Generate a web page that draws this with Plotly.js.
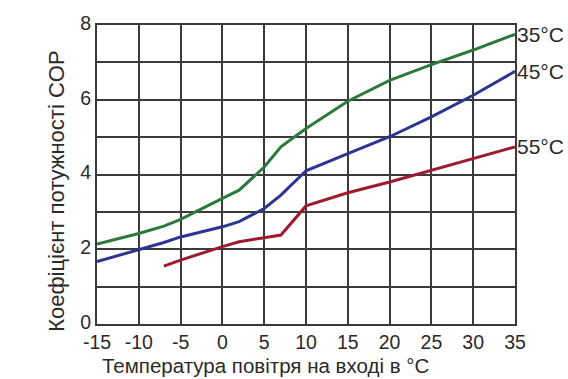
<!DOCTYPE html>
<html>
<head>
<meta charset="utf-8">
<script src="https://cdn.plot.ly/plotly-3.0.1.min.js"></script>
<style>html,body{margin:0;padding:0;background:#fff;}#chart{width:568px;height:379px;}</style>
</head>
<body>
<div id="chart"></div>
<script>
// Air inlet temperature (°C)
const xFull = [-15, -10, -7, -5, 0, 2, 5, 7, 10, 15, 20, 25, 30, 35];
const cop35 = [2.14, 2.42, 2.62, 2.8, 3.36, 3.58, 4.2, 4.74, 5.23, 5.96, 6.52, 6.94, 7.33, 7.75];
const cop45 = [1.67, 1.98, 2.18, 2.33, 2.6, 2.74, 3.09, 3.45, 4.1, 4.56, 5.01, 5.54, 6.12, 6.76];
const x55 = [-7, -5, 0, 2, 5, 7, 10, 15, 20, 25, 30, 35];
const cop55 = [1.55, 1.71, 2.07, 2.2, 2.31, 2.38, 3.16, 3.51, 3.8, 4.12, 4.43, 4.74];
const seriesNames = ["35°C", "45°C", "55°C"];
const seriesColors = ["#2b7a3b", "#2c3590", "#9e1b2e"];
const xTicks = [-15, -10, -5, 0, 5, 10, 15, 20, 25, 30, 35];
const yTicks = [0, 2, 4, 6, 8];
const xTitle = "Температура повітря на вході в °C";
const yTitle = "Коефіцієнт потужності COP";

const xs = [xFull, xFull, x55];
const ys = [cop35, cop45, cop55];
const traces = xs.map((x, i) => ({
  x: x, y: ys[i], mode: "lines", type: "scatter", name: seriesNames[i],
  line: {color: seriesColors[i], width: 3}, hoverinfo: "skip"
}));

const fam = "Liberation Sans, Arial, sans-serif";
const txtColor = "#2a2a2a";
const annotations = seriesNames.map((n, i) => ({
  x: xs[i][xs[i].length - 1], y: ys[i][ys[i].length - 1], xref: "x", yref: "y",
  text: n, showarrow: false, xanchor: "left", yanchor: "middle", xshift: 0,
  font: {family: fam, size: 21, color: txtColor}
}));
annotations.push({
  text: xTitle, xref: "paper", yref: "paper", x: 0.404, y: -0.138,
  xanchor: "center", yanchor: "middle", showarrow: false,
  font: {family: fam, size: 20.5, color: txtColor}
});
annotations.push({
  text: yTitle, xref: "paper", yref: "paper", x: -0.096, y: 0.445,
  xanchor: "center", yanchor: "middle", showarrow: false, textangle: -90,
  font: {family: fam, size: 22, color: txtColor}
});

const font = {family: fam, size: 19.5, color: txtColor};
const layout = {
  width: 568, height: 379,
  margin: {l: 97, r: 53, t: 25, b: 55},
  paper_bgcolor: "#fff", plot_bgcolor: "#fff",
  showlegend: false,
  font: font,
  xaxis: {
    range: [-15, 35], tickvals: xTicks, ticktext: xTicks.map(String),
    showgrid: true, gridcolor: "#3a3a3a", gridwidth: 2,
    zeroline: false, showline: true, linecolor: "#3a3a3a", linewidth: 2, mirror: true,
    ticks: "", ticklen: 0, tickfont: font, ticklabelstandoff: 0
  },
  yaxis: {
    range: [0, 8], tickvals: yTicks, ticktext: yTicks.map(String),
    showgrid: true, gridcolor: "#3a3a3a", gridwidth: 2,
    minor: {dtick: 1, showgrid: true, gridcolor: "#3a3a3a", gridwidth: 2},
    zeroline: false, showline: true, linecolor: "#3a3a3a", linewidth: 2, mirror: true,
    ticks: "", tickfont: font, ticklabelshift: -2
  },
  annotations: annotations
};
Plotly.newPlot("chart", traces, layout, {staticPlot: true, displayModeBar: false});
</script>
</body>
</html>
